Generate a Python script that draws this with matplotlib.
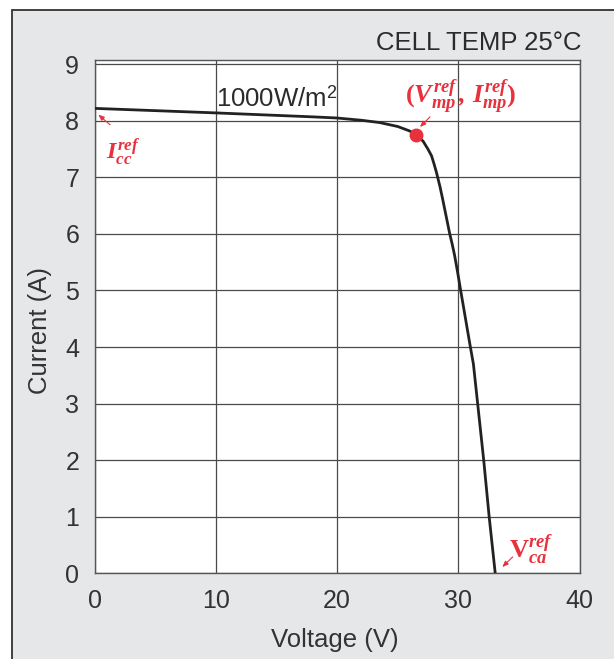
import numpy as np
import matplotlib
matplotlib.use("Agg")
import matplotlib.pyplot as plt
from matplotlib.patches import Rectangle

plt.rcParams["font.family"] = ["Liberation Sans", "DejaVu Sans"]
plt.rcParams["mathtext.fontset"] = "custom"
plt.rcParams["mathtext.rm"] = "Liberation Serif:bold"
plt.rcParams["mathtext.it"] = "Liberation Serif:italic:bold"
plt.rcParams["mathtext.sf"] = "Liberation Sans"

# I-V curve of the module at 1000 W/m2, 25 C
voltage = [0, 10, 18, 20, 22, 23.5, 25, 26, 26.5, 26.8, 27.1, 27.5, 27.8,
           28.0, 28.2, 28.5, 28.7, 28.9, 29.1, 29.3, 29.5, 29.7, 29.95, 30.2,
           31.0, 31.25, 31.6, 32.1, 32.55, 33.05]
current = [8.22, 8.14, 8.07, 8.05, 8.01, 7.97, 7.90, 7.82, 7.75, 7.70, 7.64,
           7.50, 7.38, 7.24, 7.09, 6.83, 6.63, 6.42, 6.21, 6.00, 5.82, 5.62,
           5.32, 5.00, 4.00, 3.70, 3.00, 2.00, 1.00, 0.0]

# reference points
v_mp, i_mp = 26.5, 7.75
i_sc = current[0]
v_oc = voltage[-1]

x_ticks = [0, 10, 20, 30, 40]
y_ticks = [0, 1, 2, 3, 4, 5, 6, 7, 8, 9]

red = "#e8313c"
ink = "#2b2b2b"

fig = plt.figure(figsize=(6.14, 6.59), dpi=100)
fig.patch.set_facecolor("white")
panel = Rectangle((11.5 / 614, -0.05), 1.0, 1.05 - 9.5 / 659,
                  transform=fig.transFigure, facecolor="#e6e7e9",
                  edgecolor="#333333", lw=1.3, zorder=-1)
fig.patches.append(panel)

ax = fig.add_axes([94.5 / 614, 1 - 573.3 / 659, 485 / 614, 513 / 659])
ax.set_facecolor("white")

ax.plot(voltage, current, color="#222222", lw=2.0, zorder=3,
        solid_joinstyle="round")
ax.plot([v_mp], [i_mp], "o", color=red, ms=9, zorder=4)

ax.set_xlim(0, 40)
ax.set_ylim(0, 9.07)
ax.set_xticks(x_ticks)
ax.set_yticks(y_ticks)
ax.grid(True, color="#4a4a4a", lw=0.9)
ax.tick_params(length=0, pad=11, labelsize=18, labelcolor="#333333")
for s in ax.spines.values():
    s.set_color("#555555")
    s.set_linewidth(1.0)

fig.text(40 / 614, 1 - 330 / 659, "Current (A)", rotation=90, ha="center",
         va="center", fontsize=18.5, color="#333333")
fig.text(334.5 / 614, 1 - 646.7 / 659, "Voltage (V)", ha="center",
         va="baseline", fontsize=18.5, color="#333333")
fig.text(581 / 614, 1 - 50.5 / 659, "CELL TEMP 25°C", ha="right",
         va="baseline", fontsize=18.5, color=ink)

ax.text(10.05, 8.25, r"$\mathsf{1000W/m}^{\mathsf{2}}$", ha="left",
        va="baseline", fontsize=18.5, color=ink)

serif = dict(family="Liberation Serif", weight="bold", style="italic")
ax.text(30.2, 8.31, r"$(V_{mp}^{ref}\,$, $I_{mp}^{ref})$", ha="center",
        va="baseline", fontsize=19, color=red, **serif)
ax.text(0.95, 7.32, r"$I_{cc}^{ref}$", ha="left", va="baseline",
        fontsize=17.5, color=red)
ax.text(34.2, 0.27, r"$\mathrm{V}_{ca}^{ref}$", ha="left", va="baseline",
        fontsize=19, color=red)

arrow = dict(arrowstyle="-|>,head_length=0.35,head_width=0.14", color=red,
             lw=0.8, shrinkA=0, shrinkB=0)
ax.annotate("", xy=(0.31, i_sc - 0.11), xytext=(1.28, 7.93), arrowprops=arrow)
ax.annotate("", xy=(v_mp + 0.34, i_mp + 0.14), xytext=(27.67, 8.07),
            arrowprops=arrow)
ax.annotate("", xy=(v_oc + 0.58, 0.11), xytext=(34.49, 0.29), arrowprops=arrow)

fig.savefig("out.png", dpi=100)
